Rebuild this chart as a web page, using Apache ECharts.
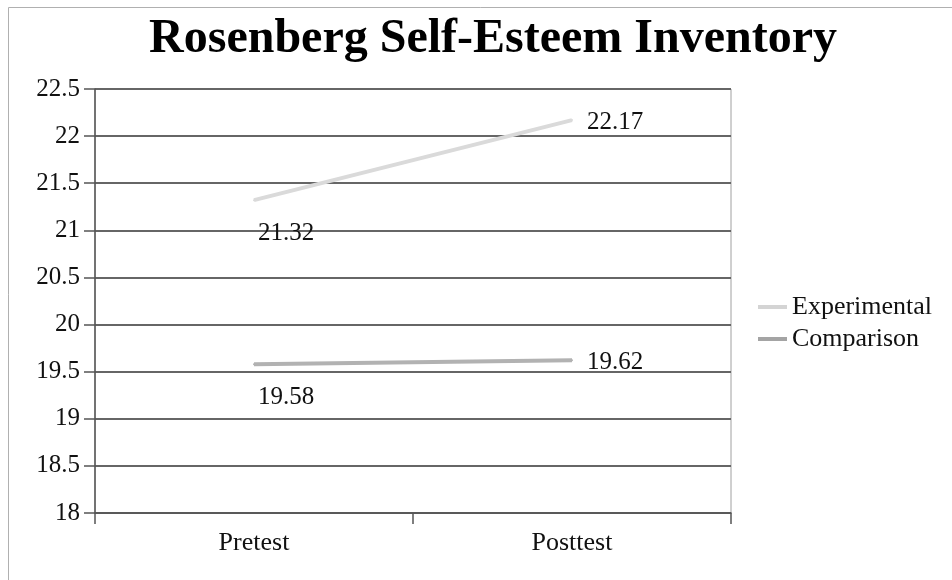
<!DOCTYPE html>
<html>
<head>
<meta charset="utf-8">
<script src="https://cdn.jsdelivr.net/npm/echarts@6/dist/echarts.min.js"></script>
<style>
html,body{margin:0;padding:0;background:#fff;}
#chart{width:952px;height:580px;}
</style>
</head>
<body>
<div id="chart"></div>
<script>
var categories = ['Pretest', 'Posttest'];
var seriesNames = ['Experimental', 'Comparison'];
var experimental = [21.32, 22.17];
var comparison = [19.58, 19.62];
var yMin = 18, yMax = 22.5, yStep = 0.5;
var titleText = 'Rosenberg Self-Esteem Inventory';

var FONT = '"Liberation Serif", "Times New Roman", serif';
var labelOffsets = [[32, 33], [43, 2]];

function withLabels(vals) {
  return vals.map(function (v, i) {
    return { value: v, label: { offset: labelOffsets[i] } };
  });
}

var chart = echarts.init(document.getElementById('chart'), null, { renderer: 'canvas' });
chart.setOption({
  backgroundColor: '#fff',
  animation: false,
  title: {
    text: titleText,
    left: 488,
    textAlign: 'center',
    top: 11,
    textStyle: { fontFamily: FONT, fontWeight: 'bold', fontSize: 48, color: '#000' }
  },
  graphic: [{
    type: 'rect',
    shape: { x: 8.5, y: 7.5, width: 1000, height: 700 },
    style: { fill: 'none', stroke: '#b0b0b0', lineWidth: 1 },
    silent: true
  }],
  legend: {
    orient: 'vertical',
    left: 758,
    top: 294,
    padding: 0,
    icon: 'rect',
    itemWidth: 29,
    itemHeight: 4,
    itemGap: 6,
    textStyle: { fontFamily: FONT, fontSize: 26, color: '#111' },
    data: [
      { name: seriesNames[0], itemStyle: { color: '#d4d4d4' } },
      { name: seriesNames[1], itemStyle: { color: '#a4a4a4' } }
    ]
  },
  grid: {
    left: 95, right: 221, top: 89, bottom: 67,
    show: true, borderColor: '#a0a0a0', borderWidth: 1, backgroundColor: 'transparent'
  },
  xAxis: {
    type: 'category',
    data: categories,
    boundaryGap: true,
    axisLine: { show: true, lineStyle: { color: '#555', width: 1.5 } },
    axisTick: { show: true, inside: false, length: 11, lineStyle: { color: '#555', width: 1.5 } },
    axisLabel: { fontFamily: FONT, fontSize: 26, color: '#111', margin: 17 },
    splitLine: { show: false }
  },
  yAxis: {
    type: 'value',
    min: yMin, max: yMax, interval: yStep,
    axisLine: { show: true, lineStyle: { color: '#555', width: 1.5 } },
    axisTick: { show: true, inside: false, length: 11, lineStyle: { color: '#555', width: 1.5 } },
    axisLabel: { fontFamily: FONT, fontSize: 25, color: '#111', margin: 15 },
    splitLine: { show: true, lineStyle: { color: '#666', width: 2 } }
  },
  series: [
    {
      name: seriesNames[0],
      type: 'line',
      data: withLabels(experimental),
      symbol: 'circle',
      symbolSize: 2,
      showSymbol: true,
      lineStyle: { color: '#dadada', width: 4 },
      itemStyle: { color: '#dadada' },
      label: { show: true, position: 'inside', fontFamily: FONT, fontSize: 25, color: '#111' }
    },
    {
      name: seriesNames[1],
      type: 'line',
      data: withLabels(comparison),
      symbol: 'circle',
      symbolSize: 2,
      showSymbol: true,
      lineStyle: { color: '#b2b2b2', width: 4 },
      itemStyle: { color: '#b2b2b2' },
      label: { show: true, position: 'inside', fontFamily: FONT, fontSize: 25, color: '#111' }
    }
  ]
});
</script>
</body>
</html>
